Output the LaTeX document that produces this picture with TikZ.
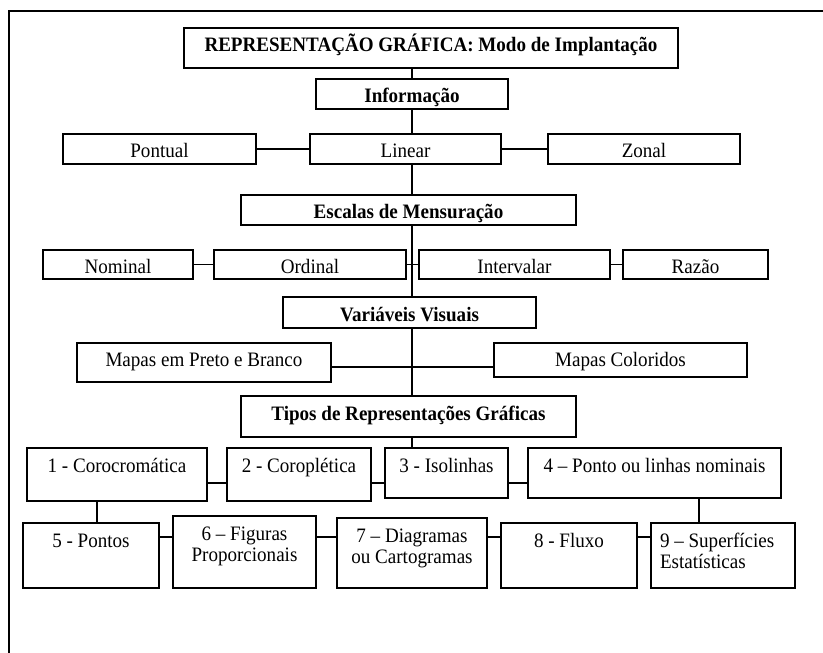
\documentclass[tikz,border=0pt]{standalone}
\usepackage{fontspec}
\setmainfont{Liberation Serif}[FakeStretch=0.93]
\newcommand{\tbox}[4][\centering]{\parbox[c][#3][t]{#2}{#1\rule{0pt}{24pt}#4}}

\begin{document}
\begin{tikzpicture}[x=1pt, y=-1pt, line width=1.9pt,
	font=\fontsize{20.5}{21.5}\selectfont,
	box/.style={draw, inner sep=0pt, text height=17pt, text depth=0pt},
	head/.style={box, font=\fontsize{20.5}{21.5}\selectfont\bfseries},
	tall/.style={draw, inner sep=0pt}]
	\useasboundingbox (0,0) rectangle (823,653);
	% frame
	\draw (9,653) -- (9,11) -- (823,11);
	\coordinate (eixo) at (412, 0);

	\node[head, text height=8pt, minimum width=494, minimum height=40] (titulo) at (431, 48) {REPRESENTAÇÃO GRÁFICA: Modo de Implantação};
	\node[head, minimum width=192, minimum height=30] (info) at (412, 94) {Informação};
	\node[box, minimum width=193, minimum height=30] (pontual) at (159.5, 149) {Pontual};
	\node[box, minimum width=191, minimum height=30] (linear) at (405.5, 149) {Linear};
	\node[box, minimum width=192, minimum height=30] (zonal) at (644, 149) {Zonal};
	\node[head, minimum width=335, minimum height=30] (escalas) at (408.5, 210) {Escalas de Mensuração};
	\node[box, minimum width=150, minimum height=29] (nominal) at (118, 264.5) {Nominal};
	\node[box, minimum width=192, minimum height=29] (ordinal) at (310, 264.5) {Ordinal};
	\node[box, minimum width=191, minimum height=29] (intervalar) at (514.5, 264.5) {Intervalar};
	\node[box, minimum width=145, minimum height=29] (razao) at (695.5, 264.5) {Razão};
	\node[head, minimum width=253, minimum height=31] (variaveis) at (409.5, 312.5) {Variáveis Visuais};
	\node[box, text height=8pt, minimum width=254, minimum height=39] (pb) at (204, 362.5) {Mapas em Preto e Branco};
	\node[box, text height=13pt, minimum width=253, minimum height=34] (cor) at (620.5, 360) {Mapas Coloridos};
	\node[head, text height=8pt, minimum width=335, minimum height=41] (tipos) at (408.5, 416.5) {Tipos de Representações Gráficas};

	% tipos
	\node[tall] (c1) at (117, 474.5) {\tbox{180pt}{53pt}{1 - Corocromática}};
	\node[tall] (c2) at (299, 474.5) {\tbox{144pt}{53pt}{2 - Coroplética}};
	\node[tall] (c3) at (446.5, 473) {\tbox{123pt}{50pt}{3 - Isolinhas}};
	\node[tall] (c4) at (654.5, 473) {\tbox{253pt}{50pt}{4 – Ponto ou linhas nominais}};
	\node[tall] (c5) at (91, 555.5) {\tbox{136pt}{65pt}{5 - Pontos}};
	\node[tall] (c6) at (244.5, 552) {\tbox{143pt}{72pt}{6 – Figuras\\Proporcionais}};
	\node[tall] (c7) at (412, 553) {\tbox{150pt}{70pt}{7 – Diagramas\\ou Cartogramas}};
	\node[tall] (c8) at (569, 555.5) {\tbox{136pt}{65pt}{8 - Fluxo}};
	\node[tall] (c9) at (723, 555.5) {\tbox[\raggedright\leftskip=9pt]{144pt}{65pt}{9 – Superfícies\\Estatísticas}};

	\draw (info.north) -- (info.north |- titulo.south);
	\draw (info.south) -- (info.south |- linear.north);
	\draw (pontual.east) -- (linear.west);
	\draw (linear.east) -- (zonal.west);
	\draw (linear.south -| eixo) -- (escalas.north -| eixo);
	\draw (escalas.south -| eixo) -- (variaveis.north -| eixo);
	\draw (nominal.east) -- (ordinal.west);
	\draw (ordinal.east) -- (intervalar.west);
	\draw (intervalar.east) -- (razao.west);
	\draw (variaveis.south -| eixo) -- (tipos.north -| eixo);
	\draw ([yshift=-4.5pt]pb.east) -- ([yshift=-4.5pt]pb.east -| cor.west);
	\draw (tipos.south -| eixo) -- (c3.north -| eixo);
	\draw ([yshift=-8.5pt]c1.east) -- ([yshift=-8.5pt]c1.east -| c2.west);
	\draw ([yshift=-8.5pt]c2.east) -- ([yshift=-8.5pt]c2.east -| c3.west);
	\draw ([yshift=-10pt]c3.east) -- ([yshift=-10pt]c3.east -| c4.west);
	\draw ([xshift=-20pt]c1.south) -- ([xshift=-20pt]c1.south |- c5.north);
	\draw ([xshift=44.5pt]c4.south) -- ([xshift=44.5pt]c4.south |- c9.north);
	\draw ([yshift=18.5pt]c5.east) -- ([yshift=18.5pt]c5.east -| c6.west);
	\draw ([yshift=15pt]c6.east) -- ([yshift=15pt]c6.east -| c7.west);
	\draw ([yshift=16pt]c7.east) -- ([yshift=16pt]c7.east -| c8.west);
	\draw ([yshift=18.5pt]c8.east) -- ([yshift=18.5pt]c8.east -| c9.west);
\end{tikzpicture}
\end{document}
